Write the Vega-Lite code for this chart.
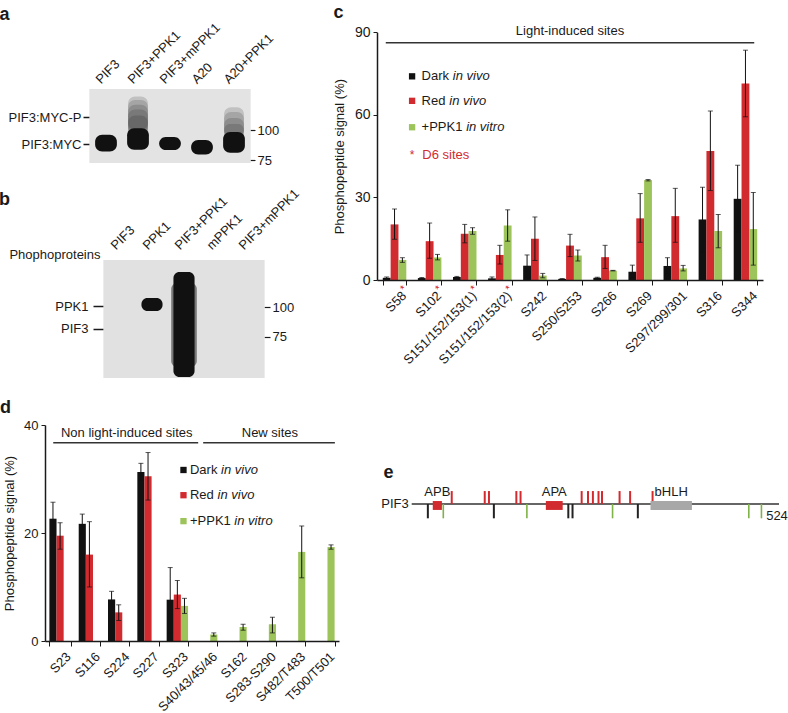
{
"$schema": "https://vega.github.io/schema/vega-lite/v6.json",
"width": 788, "height": 713, "autosize": "none", "padding": 0, "background": "#ffffff",
"config": {
  "font": "Liberation Sans",
  "view": {"stroke": null},
  "axis": {"grid": false, "labelFont": "Liberation Sans", "titleFont": "Liberation Sans", "labelColor": "#1a1a1a", "titleColor": "#1a1a1a", "domainColor": "#1a1a1a", "tickColor": "#1a1a1a", "labelFontSize": 13, "titleFontSize": 13, "titleFontWeight": "normal"},
  "text": {"font": "Liberation Sans", "color": "#1a1a1a", "fontSize": 13}
},
"datasets": {
  "lanesA": [{"lane": "PIF3"}, {"lane": "PIF3+PPK1"}, {"lane": "PIF3+mPPK1"}, {"lane": "A20"}, {"lane": "A20+PPK1"}],
  "bandsA": [{"lane": "PIF3", "lo": 82, "hi": 96}, {"lane": "PIF3+PPK1", "lo": 83.5, "hi": 101.5}, {"lane": "PIF3+mPPK1", "lo": 83.3, "hi": 94.2}, {"lane": "A20", "lo": 79.5, "hi": 91.7}, {"lane": "A20+PPK1", "lo": 81, "hi": 98.3}],
  "smearA": [{"lane": "PIF3+PPK1", "lo": 92, "hi": 128}, {"lane": "PIF3+PPK1", "lo": 94, "hi": 125}, {"lane": "PIF3+PPK1", "lo": 96, "hi": 121}, {"lane": "PIF3+PPK1", "lo": 98, "hi": 117}, {"lane": "PIF3+PPK1", "lo": 100, "hi": 112},
             {"lane": "A20+PPK1", "lo": 90, "hi": 119}, {"lane": "A20+PPK1", "lo": 92, "hi": 115}, {"lane": "A20+PPK1", "lo": 94, "hi": 110}, {"lane": "A20+PPK1", "lo": 95, "hi": 105}],
  "lanesB": [{"lane": "PIF3"}, {"lane": "PPK1"}, {"lane": "PIF3+PPK1"}, {"lane": "mPPK1"}, {"lane": "PIF3+mPPK1"}],
  "bandsB": [{"lane": "PPK1", "lo": 96.7, "hi": 107.5}, {"lane": "PIF3+PPK1", "lo": 41.7, "hi": 129.2}],
  "smearB": [{"lane": "PIF3+PPK1", "lo": 50, "hi": 120}],
  "c": [
    {"site": "S58", "group": "Dark", "value": 0.8, "lo": 0.5, "hi": 1.1},
    {"site": "S58", "group": "Red", "value": 20.2, "lo": 14.8, "hi": 25.8},
    {"site": "S58", "group": "+PPK1", "value": 7.3, "lo": 6.4, "hi": 8.1},
    {"site": "S102", "group": "Dark", "value": 0.7, "lo": 0.5, "hi": 0.9},
    {"site": "S102", "group": "Red", "value": 14.1, "lo": 7.9, "hi": 20.7},
    {"site": "S102", "group": "+PPK1", "value": 8.2, "lo": 7.3, "hi": 9.3},
    {"site": "S151/152/153(1)", "group": "Dark", "value": 1.1, "lo": 0.8, "hi": 1.3},
    {"site": "S151/152/153(1)", "group": "Red", "value": 16.8, "lo": 13.5, "hi": 20.2},
    {"site": "S151/152/153(1)", "group": "+PPK1", "value": 17.8, "lo": 16.6, "hi": 19.0},
    {"site": "S151/152/153(2)", "group": "Dark", "value": 0.6, "lo": 0.2, "hi": 1.1},
    {"site": "S151/152/153(2)", "group": "Red", "value": 9.1, "lo": 5.8, "hi": 12.6},
    {"site": "S151/152/153(2)", "group": "+PPK1", "value": 19.8, "lo": 14.1, "hi": 25.5},
    {"site": "S242", "group": "Dark", "value": 5.2, "lo": 1.2, "hi": 9.1},
    {"site": "S242", "group": "Red", "value": 15.0, "lo": 7.1, "hi": 22.9},
    {"site": "S242", "group": "+PPK1", "value": 1.6, "lo": 0.8, "hi": 2.4},
    {"site": "S250/S253", "group": "Dark", "value": 0.4, "lo": 0.3, "hi": 0.5},
    {"site": "S250/S253", "group": "Red", "value": 12.5, "lo": 8.5, "hi": 16.6},
    {"site": "S250/S253", "group": "+PPK1", "value": 8.9, "lo": 6.9, "hi": 10.9},
    {"site": "S266", "group": "Dark", "value": 0.8, "lo": 0.6, "hi": 1.0},
    {"site": "S266", "group": "Red", "value": 8.3, "lo": 4.2, "hi": 12.6},
    {"site": "S266", "group": "+PPK1", "value": 3.4, "lo": 3.3, "hi": 3.5},
    {"site": "S269", "group": "Dark", "value": 3.0, "lo": 0.8, "hi": 5.4},
    {"site": "S269", "group": "Red", "value": 22.4, "lo": 13.7, "hi": 31.4},
    {"site": "S269", "group": "+PPK1", "value": 36.3, "lo": 36.0, "hi": 36.5},
    {"site": "S297/299/301", "group": "Dark", "value": 5.1, "lo": 2.1, "hi": 8.1},
    {"site": "S297/299/301", "group": "Red", "value": 23.2, "lo": 13.7, "hi": 33.3},
    {"site": "S297/299/301", "group": "+PPK1", "value": 4.2, "lo": 3.3, "hi": 5.3},
    {"site": "S316", "group": "Dark", "value": 22.0, "lo": 10.3, "hi": 33.7},
    {"site": "S316", "group": "Red", "value": 46.9, "lo": 32.5, "hi": 61.4},
    {"site": "S316", "group": "+PPK1", "value": 17.8, "lo": 11.7, "hi": 23.8},
    {"site": "S344", "group": "Dark", "value": 29.5, "lo": 17.3, "hi": 41.7},
    {"site": "S344", "group": "Red", "value": 71.4, "lo": 59.3, "hi": 83.5},
    {"site": "S344", "group": "+PPK1", "value": 18.5, "lo": 5.4, "hi": 31.8}
  ],
  "d6": [{"site": "S58"}, {"site": "S102"}, {"site": "S151/152/153(1)"}, {"site": "S151/152/153(2)"}],
  "d": [
    {"site": "S23", "group": "Dark", "value": 22.65, "lo": 19.6, "hi": 25.7},
    {"site": "S23", "group": "Red", "value": 19.5, "lo": 17.0, "hi": 21.9},
    {"site": "S116", "group": "Dark", "value": 21.7, "lo": 19.9, "hi": 23.5},
    {"site": "S116", "group": "Red", "value": 16.0, "lo": 10.0, "hi": 22.1},
    {"site": "S224", "group": "Dark", "value": 7.7, "lo": 6.2, "hi": 9.2},
    {"site": "S224", "group": "Red", "value": 5.3, "lo": 3.8, "hi": 6.7},
    {"site": "S227", "group": "Dark", "value": 31.3, "lo": 29.8, "hi": 32.9},
    {"site": "S227", "group": "Red", "value": 30.5, "lo": 26.1, "hi": 34.9},
    {"site": "S323", "group": "Dark", "value": 7.65, "lo": 1.4, "hi": 13.6},
    {"site": "S323", "group": "Red", "value": 8.6, "lo": 6.0, "hi": 11.2},
    {"site": "S323", "group": "+PPK1", "value": 6.5, "lo": 5.1, "hi": 7.9},
    {"site": "S40/43/45/46", "group": "+PPK1", "value": 1.2, "lo": 0.9, "hi": 1.5},
    {"site": "S162", "group": "+PPK1", "value": 2.6, "lo": 2.0, "hi": 3.1},
    {"site": "S283-S290", "group": "+PPK1", "value": 3.1, "lo": 1.5, "hi": 4.4},
    {"site": "S482/T483", "group": "+PPK1", "value": 16.5, "lo": 11.7, "hi": 21.3},
    {"site": "T500/T501", "group": "+PPK1", "value": 17.4, "lo": 17.0, "hi": 17.8}
  ],
  "protein": [{"protein": "PIF3", "start": 1, "end": 524}],
  "domains": [{"domain": "APB", "start": 31, "end": 44}, {"domain": "APA", "start": 192, "end": 216}, {"domain": "bHLH", "start": 341, "end": 400}],
  "sites": [
    {"residue": 58, "kind": "light"}, {"residue": 105, "kind": "light"}, {"residue": 111, "kind": "light"}, {"residue": 150, "kind": "light"}, {"residue": 156, "kind": "light"},
    {"residue": 243, "kind": "light"}, {"residue": 252, "kind": "light"}, {"residue": 259, "kind": "light"}, {"residue": 267, "kind": "light"}, {"residue": 272, "kind": "light"},
    {"residue": 297, "kind": "light"}, {"residue": 312, "kind": "light"}, {"residue": 344, "kind": "light"},
    {"residue": 24, "kind": "nonlight"}, {"residue": 118, "kind": "nonlight"}, {"residue": 224, "kind": "nonlight"}, {"residue": 230, "kind": "nonlight"}, {"residue": 323, "kind": "nonlight"},
    {"residue": 46, "kind": "new"}, {"residue": 165, "kind": "new"}, {"residue": 287, "kind": "new"}, {"residue": 481, "kind": "new"}, {"residue": 499, "kind": "new"}
  ]
},
"layer": [
  {"data": {"name": "lanesA"}, "mark": {"type": "bar", "color": "#e3e3e3", "width": {"band": 1.04}},
   "encoding": {
     "x": {"field": "lane", "type": "nominal", "sort": null, "scale": {"domain": ["PIF3", "PIF3+PPK1", "PIF3+mPPK1", "A20", "A20+PPK1"], "range": [90, 250], "paddingInner": 0, "paddingOuter": 0},
           "axis": {"orient": "top", "offset": -89, "domain": false, "ticks": false, "labelAngle": -45, "labelPadding": 3, "labelOffset": -3, "labelOverlap": false, "title": "a", "titleX": 4, "titleY": -75, "titleAngle": 0, "titleAlign": "center", "titleBaseline": "middle", "titleFontSize": 18, "titleFontWeight": "bold"}},
     "y": {"datum": 72.5, "type": "quantitative", "scale": {"domain": [72.5, 134.17], "range": [163, 89], "nice": false, "zero": false}, "axis": null},
     "y2": {"datum": 134.17}
   }},
  {"data": {"name": "smearA"}, "mark": {"type": "bar", "color": "#111111", "opacity": 0.16, "cornerRadius": 7, "width": {"band": 0.62}},
   "encoding": {
     "x": {"field": "lane", "type": "nominal", "sort": null, "scale": {"domain": ["PIF3", "PIF3+PPK1", "PIF3+mPPK1", "A20", "A20+PPK1"], "range": [90, 250], "paddingInner": 0, "paddingOuter": 0}, "axis": null},
     "y": {"field": "lo", "type": "quantitative", "scale": {"domain": [72.5, 134.17], "range": [163, 89], "nice": false, "zero": false},
           "axis": {"orient": "right", "offset": -538, "values": [100, 75], "domain": false, "tickSize": 5, "tickWidth": 1.2, "labelPadding": 2, "title": null}},
     "y2": {"field": "hi"}
   }},
  {"data": {"name": "bandsA"}, "mark": {"type": "bar", "color": "#111111", "cornerRadius": 7, "width": {"band": 0.68}},
   "encoding": {
     "x": {"field": "lane", "type": "nominal", "sort": null, "scale": {"domain": ["PIF3", "PIF3+PPK1", "PIF3+mPPK1", "A20", "A20+PPK1"], "range": [90, 250], "paddingInner": 0, "paddingOuter": 0}, "axis": null},
     "y": {"field": "lo", "type": "quantitative", "scale": {"domain": [72.5, 134.17], "range": [163, 89], "nice": false, "zero": false},
           "axis": {"orient": "left", "offset": -93, "values": [110.83, 88.33], "labelExpr": "datum.value > 100 ? 'PIF3:MYC-P' : 'PIF3:MYC'", "domain": false, "tickSize": 10, "tickWidth": 1.5, "labelPadding": 2, "title": null}},
     "y2": {"field": "hi"}
   }},

  {"data": {"name": "lanesB"}, "mark": {"type": "bar", "color": "#e1e1e1", "width": {"band": 1.04}},
   "encoding": {
     "x": {"field": "lane", "type": "nominal", "sort": null, "scale": {"domain": ["PIF3", "PPK1", "PIF3+PPK1", "mPPK1", "PIF3+mPPK1"], "range": [104, 264], "paddingInner": 0, "paddingOuter": 0},
           "axis": {"orient": "top", "offset": -260, "domain": false, "ticks": false, "labelAngle": -45, "labelPadding": 8, "labelOffset": -2, "labelOverlap": false, "title": "b", "titleX": 4, "titleY": -61, "titleAngle": 0, "titleAlign": "center", "titleBaseline": "middle", "titleFontSize": 18, "titleFontWeight": "bold"}},
     "y": {"datum": 40.83, "type": "quantitative", "scale": {"domain": [40.83, 139.17], "range": [378, 260], "nice": false, "zero": false}, "axis": null},
     "y2": {"datum": 139.17}
   }},
  {"data": {"name": "smearB"}, "mark": {"type": "bar", "color": "#111111", "opacity": 0.5, "cornerRadius": 6, "width": {"band": 0.8}},
   "encoding": {
     "x": {"field": "lane", "type": "nominal", "sort": null, "scale": {"domain": ["PIF3", "PPK1", "PIF3+PPK1", "mPPK1", "PIF3+mPPK1"], "range": [104, 264], "paddingInner": 0, "paddingOuter": 0}, "axis": null},
     "y": {"field": "lo", "type": "quantitative", "scale": {"domain": [40.83, 139.17], "range": [378, 260], "nice": false, "zero": false},
           "axis": {"orient": "right", "offset": -524, "values": [100, 75], "domain": false, "tickSize": 6, "tickWidth": 1.2, "labelPadding": 2, "title": null}},
     "y2": {"field": "hi"}
   }},
  {"data": {"name": "bandsB"}, "mark": {"type": "bar", "color": "#111111", "cornerRadius": 6, "width": {"band": 0.66}},
   "encoding": {
     "x": {"field": "lane", "type": "nominal", "sort": null, "scale": {"domain": ["PIF3", "PPK1", "PIF3+PPK1", "mPPK1", "PIF3+mPPK1"], "range": [104, 264], "paddingInner": 0, "paddingOuter": 0}, "axis": null},
     "y": {"field": "lo", "type": "quantitative", "scale": {"domain": [40.83, 139.17], "range": [378, 260], "nice": false, "zero": false},
           "axis": {"orient": "left", "offset": -104, "values": [100.83, 81.67], "labelExpr": "datum.value > 90 ? 'PPK1' : 'PIF3'", "domain": false, "tickSize": 11, "tickWidth": 1.5, "labelPadding": 5, "title": "Phophoproteins", "titleX": -4, "titleY": 258.5, "titleAngle": 0, "titleAlign": "right", "titleBaseline": "alphabetic"}},
     "y2": {"field": "hi"}
   }},

  {"data": {"name": "c"}, "mark": {"type": "bar"},
   "encoding": {
     "x": {"field": "site", "type": "nominal", "sort": null,
           "scale": {"domain": ["S58", "S102", "S151/152/153(1)", "S151/152/153(2)", "S242", "S250/S253", "S266", "S269", "S297/299/301", "S316", "S344"], "range": [377, 763], "paddingInner": 0.33, "paddingOuter": 0.165},
           "axis": {"orient": "bottom", "offset": -433, "zindex": 1, "tickBand": "extent", "tickSize": 5, "domainWidth": 1.5, "labelAngle": -45, "labelPadding": 4, "labelOffset": 5, "labelOverlap": false, "labelFontSize": 13, "title": "c", "titleX": 338, "titleY": -267.5, "titleAngle": 0, "titleAlign": "center", "titleBaseline": "middle", "titleFontSize": 18, "titleFontWeight": "bold"}},
     "xOffset": {"field": "group", "type": "nominal", "sort": null, "scale": {"domain": ["Dark", "Red", "+PPK1"], "paddingInner": 0, "paddingOuter": 0}},
     "y": {"field": "value", "type": "quantitative", "scale": {"domain": [0, 90], "range": [280, 32.3], "nice": false, "zero": false},
           "axis": {"orient": "left", "offset": -377, "zindex": 1, "values": [0, 30, 60, 90], "tickSize": 4, "domainWidth": 1.5, "labelPadding": 3, "labelFontSize": 14, "title": "Phosphopeptide signal (%)", "titlePadding": 8}},
     "color": {"field": "group", "type": "nominal", "scale": {"domain": ["Dark", "Red", "+PPK1"], "range": ["#111111", "#d22b2f", "#9dc45b"]}, "legend": null}
   }},
  {"data": {"name": "c"}, "mark": {"type": "rule", "color": "#111111", "strokeWidth": 1},
   "encoding": {
     "x": {"field": "site", "type": "nominal", "sort": null, "scale": {"domain": ["S58", "S102", "S151/152/153(1)", "S151/152/153(2)", "S242", "S250/S253", "S266", "S269", "S297/299/301", "S316", "S344"], "range": [377, 763], "paddingInner": 0.33, "paddingOuter": 0.165}, "axis": null},
     "xOffset": {"field": "group", "type": "nominal", "sort": null, "scale": {"domain": ["Dark", "Red", "+PPK1"], "paddingInner": 0, "paddingOuter": 0}},
     "y": {"field": "lo", "type": "quantitative", "scale": {"domain": [0, 90], "range": [280, 32.3], "nice": false, "zero": false}, "axis": null},
     "y2": {"field": "hi"}
   }},
  {"data": {"name": "c"}, "mark": {"type": "tick", "orient": "horizontal", "size": 5, "thickness": 1, "color": "#111111"},
   "encoding": {
     "x": {"field": "site", "type": "nominal", "sort": null, "scale": {"domain": ["S58", "S102", "S151/152/153(1)", "S151/152/153(2)", "S242", "S250/S253", "S266", "S269", "S297/299/301", "S316", "S344"], "range": [377, 763], "paddingInner": 0.33, "paddingOuter": 0.165}, "axis": null},
     "xOffset": {"field": "group", "type": "nominal", "sort": null, "scale": {"domain": ["Dark", "Red", "+PPK1"], "paddingInner": 0, "paddingOuter": 0}},
     "y": {"field": "lo", "type": "quantitative", "scale": {"domain": [0, 90], "range": [280, 32.3], "nice": false, "zero": false}, "axis": null}
   }},
  {"data": {"name": "c"}, "mark": {"type": "tick", "orient": "horizontal", "size": 5, "thickness": 1, "color": "#111111"},
   "encoding": {
     "x": {"field": "site", "type": "nominal", "sort": null, "scale": {"domain": ["S58", "S102", "S151/152/153(1)", "S151/152/153(2)", "S242", "S250/S253", "S266", "S269", "S297/299/301", "S316", "S344"], "range": [377, 763], "paddingInner": 0.33, "paddingOuter": 0.165}, "axis": null},
     "xOffset": {"field": "group", "type": "nominal", "sort": null, "scale": {"domain": ["Dark", "Red", "+PPK1"], "paddingInner": 0, "paddingOuter": 0}},
     "y": {"field": "hi", "type": "quantitative", "scale": {"domain": [0, 90], "range": [280, 32.3], "nice": false, "zero": false}, "axis": null}
   }},
  {"data": {"name": "d6"}, "mark": {"type": "text", "text": "*", "color": "#d22b2f", "fontSize": 11, "angle": 315, "align": "left", "baseline": "top", "dx": -2, "dy": 7},
   "encoding": {
     "x": {"field": "site", "type": "nominal", "sort": null, "scale": {"domain": ["S58", "S102", "S151/152/153(1)", "S151/152/153(2)", "S242", "S250/S253", "S266", "S269", "S297/299/301", "S316", "S344"], "range": [377, 763], "paddingInner": 0.33, "paddingOuter": 0.165}, "axis": null},
     "y": {"datum": 0, "type": "quantitative", "scale": {"domain": [0, 90], "range": [280, 32.3], "nice": false, "zero": false}, "axis": null}
   }},
  {"data": {"values": [{}]}, "mark": {"type": "rule", "color": "#333333", "strokeWidth": 1.5},
   "encoding": {"x": {"datum": 0.25, "type": "quantitative", "scale": {"domain": [0, 11], "range": [377, 763], "nice": false, "zero": false}, "axis": null}, "x2": {"datum": 10.75},
                "y": {"datum": 86.2, "type": "quantitative", "scale": {"domain": [0, 90], "range": [280, 32.3], "nice": false, "zero": false}, "axis": null}}},
  {"data": {"values": [{}]}, "mark": {"type": "text", "align": "center", "baseline": "middle", "fontSize": 13},
   "encoding": {"x": {"datum": 5.5, "type": "quantitative", "scale": {"domain": [0, 11], "range": [377, 763], "nice": false, "zero": false}, "axis": null},
                "y": {"datum": 90.6, "type": "quantitative", "scale": {"domain": [0, 90], "range": [280, 32.3], "nice": false, "zero": false}, "axis": null}, "text": {"value": "Light-induced sites"}}},
  {"data": {"values": [{}]}, "mark": {"type": "square", "size": 40, "opacity": 1, "color": "#111111"},
   "encoding": {"x": {"datum": 1.0, "type": "quantitative", "scale": {"domain": [0, 11], "range": [377, 763], "nice": false, "zero": false}, "axis": null},
                "y": {"datum": 74.0, "type": "quantitative", "scale": {"domain": [0, 90], "range": [280, 32.3], "nice": false, "zero": false}, "axis": null}}},
  {"data": {"values": [{}]}, "mark": {"type": "square", "size": 40, "opacity": 1, "color": "#d22b2f"},
   "encoding": {"x": {"datum": 1.0, "type": "quantitative", "scale": {"domain": [0, 11], "range": [377, 763], "nice": false, "zero": false}, "axis": null},
                "y": {"datum": 65.1, "type": "quantitative", "scale": {"domain": [0, 90], "range": [280, 32.3], "nice": false, "zero": false}, "axis": null}}},
  {"data": {"values": [{}]}, "mark": {"type": "square", "size": 40, "opacity": 1, "color": "#9dc45b"},
   "encoding": {"x": {"datum": 1.0, "type": "quantitative", "scale": {"domain": [0, 11], "range": [377, 763], "nice": false, "zero": false}, "axis": null},
                "y": {"datum": 55.5, "type": "quantitative", "scale": {"domain": [0, 90], "range": [280, 32.3], "nice": false, "zero": false}, "axis": null}}},
  {"data": {"values": [{}]}, "mark": {"type": "text", "align": "left", "baseline": "middle", "fontSize": 13},
   "encoding": {"x": {"datum": 1.27, "type": "quantitative", "scale": {"domain": [0, 11], "range": [377, 763], "nice": false, "zero": false}, "axis": null},
                "y": {"datum": 74.0, "type": "quantitative", "scale": {"domain": [0, 90], "range": [280, 32.3], "nice": false, "zero": false}, "axis": null}, "text": {"value": "Dark"}}},
  {"data": {"values": [{}]}, "mark": {"type": "text", "align": "left", "baseline": "middle", "fontSize": 13},
   "encoding": {"x": {"datum": 1.27, "type": "quantitative", "scale": {"domain": [0, 11], "range": [377, 763], "nice": false, "zero": false}, "axis": null},
                "y": {"datum": 65.1, "type": "quantitative", "scale": {"domain": [0, 90], "range": [280, 32.3], "nice": false, "zero": false}, "axis": null}, "text": {"value": "Red"}}},
  {"data": {"values": [{}]}, "mark": {"type": "text", "align": "left", "baseline": "middle", "fontSize": 13},
   "encoding": {"x": {"datum": 1.27, "type": "quantitative", "scale": {"domain": [0, 11], "range": [377, 763], "nice": false, "zero": false}, "axis": null},
                "y": {"datum": 55.5, "type": "quantitative", "scale": {"domain": [0, 90], "range": [280, 32.3], "nice": false, "zero": false}, "axis": null}, "text": {"value": "+PPK1"}}},
  {"data": {"values": [{}]}, "mark": {"type": "text", "align": "left", "baseline": "middle", "fontSize": 13, "fontStyle": "italic"},
   "encoding": {"x": {"datum": 2.16, "type": "quantitative", "scale": {"domain": [0, 11], "range": [377, 763], "nice": false, "zero": false}, "axis": null},
                "y": {"datum": 74.0, "type": "quantitative", "scale": {"domain": [0, 90], "range": [280, 32.3], "nice": false, "zero": false}, "axis": null}, "text": {"value": "in vivo"}}},
  {"data": {"values": [{}]}, "mark": {"type": "text", "align": "left", "baseline": "middle", "fontSize": 13, "fontStyle": "italic"},
   "encoding": {"x": {"datum": 2.06, "type": "quantitative", "scale": {"domain": [0, 11], "range": [377, 763], "nice": false, "zero": false}, "axis": null},
                "y": {"datum": 65.1, "type": "quantitative", "scale": {"domain": [0, 90], "range": [280, 32.3], "nice": false, "zero": false}, "axis": null}, "text": {"value": "in vivo"}}},
  {"data": {"values": [{}]}, "mark": {"type": "text", "align": "left", "baseline": "middle", "fontSize": 13, "fontStyle": "italic"},
   "encoding": {"x": {"datum": 2.54, "type": "quantitative", "scale": {"domain": [0, 11], "range": [377, 763], "nice": false, "zero": false}, "axis": null},
                "y": {"datum": 55.5, "type": "quantitative", "scale": {"domain": [0, 90], "range": [280, 32.3], "nice": false, "zero": false}, "axis": null}, "text": {"value": "in vitro"}}},
  {"data": {"values": [{}]}, "mark": {"type": "text", "align": "center", "baseline": "middle", "fontSize": 12, "color": "#d22b2f"},
   "encoding": {"x": {"datum": 1.0, "type": "quantitative", "scale": {"domain": [0, 11], "range": [377, 763], "nice": false, "zero": false}, "axis": null},
                "y": {"datum": 45.4, "type": "quantitative", "scale": {"domain": [0, 90], "range": [280, 32.3], "nice": false, "zero": false}, "axis": null}, "text": {"value": "*"}}},
  {"data": {"values": [{}]}, "mark": {"type": "text", "align": "left", "baseline": "middle", "fontSize": 13, "color": "#d22b2f"},
   "encoding": {"x": {"datum": 1.29, "type": "quantitative", "scale": {"domain": [0, 11], "range": [377, 763], "nice": false, "zero": false}, "axis": null},
                "y": {"datum": 45.4, "type": "quantitative", "scale": {"domain": [0, 90], "range": [280, 32.3], "nice": false, "zero": false}, "axis": null}, "text": {"value": "D6 sites"}}},

  {"data": {"name": "d"}, "mark": {"type": "bar"},
   "encoding": {
     "x": {"field": "site", "type": "nominal", "sort": null,
           "scale": {"domain": ["S23", "S116", "S224", "S227", "S323", "S40/43/45/46", "S162", "S283-S290", "S482/T483", "T500/T501"], "range": [45, 339], "paddingInner": 0.27, "paddingOuter": 0.15},
           "axis": {"orient": "bottom", "offset": -72, "zindex": 1, "tickBand": "extent", "tickSize": 5, "domainWidth": 1.5, "labelAngle": -45, "labelPadding": 4, "labelOffset": 4, "labelOverlap": false, "labelFontSize": 13, "title": "d", "titleX": 5, "titleY": -234, "titleAngle": 0, "titleAlign": "center", "titleBaseline": "middle", "titleFontSize": 18, "titleFontWeight": "bold"}},
     "xOffset": {"field": "group", "type": "nominal", "sort": null, "scale": {"domain": ["Dark", "Red", "+PPK1"], "paddingInner": 0, "paddingOuter": 0}},
     "y": {"field": "value", "type": "quantitative", "scale": {"domain": [0, 40], "range": [641, 425], "nice": false, "zero": false},
           "axis": {"orient": "left", "offset": -45, "zindex": 1, "values": [0, 20, 40], "tickSize": 4, "domainWidth": 1.5, "labelPadding": 3, "labelFontSize": 13, "title": "Phosphopeptide signal (%)", "titlePadding": 7}},
     "color": {"field": "group", "type": "nominal", "scale": {"domain": ["Dark", "Red", "+PPK1"], "range": ["#111111", "#d22b2f", "#9dc45b"]}, "legend": null}
   }},
  {"data": {"name": "d"}, "mark": {"type": "rule", "color": "#111111", "strokeWidth": 1},
   "encoding": {
     "x": {"field": "site", "type": "nominal", "sort": null, "scale": {"domain": ["S23", "S116", "S224", "S227", "S323", "S40/43/45/46", "S162", "S283-S290", "S482/T483", "T500/T501"], "range": [45, 339], "paddingInner": 0.27, "paddingOuter": 0.15}, "axis": null},
     "xOffset": {"field": "group", "type": "nominal", "sort": null, "scale": {"domain": ["Dark", "Red", "+PPK1"], "paddingInner": 0, "paddingOuter": 0}},
     "y": {"field": "lo", "type": "quantitative", "scale": {"domain": [0, 40], "range": [641, 425], "nice": false, "zero": false}, "axis": null},
     "y2": {"field": "hi"}
   }},
  {"data": {"name": "d"}, "mark": {"type": "tick", "orient": "horizontal", "size": 5, "thickness": 1, "color": "#111111"},
   "encoding": {
     "x": {"field": "site", "type": "nominal", "sort": null, "scale": {"domain": ["S23", "S116", "S224", "S227", "S323", "S40/43/45/46", "S162", "S283-S290", "S482/T483", "T500/T501"], "range": [45, 339], "paddingInner": 0.27, "paddingOuter": 0.15}, "axis": null},
     "xOffset": {"field": "group", "type": "nominal", "sort": null, "scale": {"domain": ["Dark", "Red", "+PPK1"], "paddingInner": 0, "paddingOuter": 0}},
     "y": {"field": "lo", "type": "quantitative", "scale": {"domain": [0, 40], "range": [641, 425], "nice": false, "zero": false}, "axis": null}
   }},
  {"data": {"name": "d"}, "mark": {"type": "tick", "orient": "horizontal", "size": 5, "thickness": 1, "color": "#111111"},
   "encoding": {
     "x": {"field": "site", "type": "nominal", "sort": null, "scale": {"domain": ["S23", "S116", "S224", "S227", "S323", "S40/43/45/46", "S162", "S283-S290", "S482/T483", "T500/T501"], "range": [45, 339], "paddingInner": 0.27, "paddingOuter": 0.15}, "axis": null},
     "xOffset": {"field": "group", "type": "nominal", "sort": null, "scale": {"domain": ["Dark", "Red", "+PPK1"], "paddingInner": 0, "paddingOuter": 0}},
     "y": {"field": "hi", "type": "quantitative", "scale": {"domain": [0, 40], "range": [641, 425], "nice": false, "zero": false}, "axis": null}
   }},
  {"data": {"values": [{}]}, "mark": {"type": "rule", "color": "#333333", "strokeWidth": 1.5},
   "encoding": {"x": {"datum": 0.28, "type": "quantitative", "scale": {"domain": [0, 10], "range": [45, 339], "nice": false, "zero": false}, "axis": null}, "x2": {"datum": 5.21},
                "y": {"datum": 36.7, "type": "quantitative", "scale": {"domain": [0, 40], "range": [641, 425], "nice": false, "zero": false}, "axis": null}}},
  {"data": {"values": [{}]}, "mark": {"type": "rule", "color": "#333333", "strokeWidth": 1.5},
   "encoding": {"x": {"datum": 5.38, "type": "quantitative", "scale": {"domain": [0, 10], "range": [45, 339], "nice": false, "zero": false}, "axis": null}, "x2": {"datum": 9.86},
                "y": {"datum": 36.7, "type": "quantitative", "scale": {"domain": [0, 40], "range": [641, 425], "nice": false, "zero": false}, "axis": null}}},
  {"data": {"values": [{}]}, "mark": {"type": "text", "align": "center", "baseline": "middle", "fontSize": 13},
   "encoding": {"x": {"datum": 2.78, "type": "quantitative", "scale": {"domain": [0, 10], "range": [45, 339], "nice": false, "zero": false}, "axis": null},
                "y": {"datum": 38.5, "type": "quantitative", "scale": {"domain": [0, 40], "range": [641, 425], "nice": false, "zero": false}, "axis": null}, "text": {"value": "Non light-induced sites"}}},
  {"data": {"values": [{}]}, "mark": {"type": "text", "align": "center", "baseline": "middle", "fontSize": 13},
   "encoding": {"x": {"datum": 7.65, "type": "quantitative", "scale": {"domain": [0, 10], "range": [45, 339], "nice": false, "zero": false}, "axis": null},
                "y": {"datum": 38.5, "type": "quantitative", "scale": {"domain": [0, 40], "range": [641, 425], "nice": false, "zero": false}, "axis": null}, "text": {"value": "New sites"}}},
  {"data": {"values": [{}]}, "mark": {"type": "square", "size": 40, "opacity": 1, "color": "#111111"},
   "encoding": {"x": {"datum": 4.71, "type": "quantitative", "scale": {"domain": [0, 10], "range": [45, 339], "nice": false, "zero": false}, "axis": null},
                "y": {"datum": 31.67, "type": "quantitative", "scale": {"domain": [0, 40], "range": [641, 425], "nice": false, "zero": false}, "axis": null}}},
  {"data": {"values": [{}]}, "mark": {"type": "square", "size": 40, "opacity": 1, "color": "#d22b2f"},
   "encoding": {"x": {"datum": 4.71, "type": "quantitative", "scale": {"domain": [0, 10], "range": [45, 339], "nice": false, "zero": false}, "axis": null},
                "y": {"datum": 27.0, "type": "quantitative", "scale": {"domain": [0, 40], "range": [641, 425], "nice": false, "zero": false}, "axis": null}}},
  {"data": {"values": [{}]}, "mark": {"type": "square", "size": 40, "opacity": 1, "color": "#9dc45b"},
   "encoding": {"x": {"datum": 4.71, "type": "quantitative", "scale": {"domain": [0, 10], "range": [45, 339], "nice": false, "zero": false}, "axis": null},
                "y": {"datum": 22.2, "type": "quantitative", "scale": {"domain": [0, 40], "range": [641, 425], "nice": false, "zero": false}, "axis": null}}},
  {"data": {"values": [{}]}, "mark": {"type": "text", "align": "left", "baseline": "middle", "fontSize": 13},
   "encoding": {"x": {"datum": 4.93, "type": "quantitative", "scale": {"domain": [0, 10], "range": [45, 339], "nice": false, "zero": false}, "axis": null},
                "y": {"datum": 31.67, "type": "quantitative", "scale": {"domain": [0, 40], "range": [641, 425], "nice": false, "zero": false}, "axis": null}, "text": {"value": "Dark"}}},
  {"data": {"values": [{}]}, "mark": {"type": "text", "align": "left", "baseline": "middle", "fontSize": 13},
   "encoding": {"x": {"datum": 4.93, "type": "quantitative", "scale": {"domain": [0, 10], "range": [45, 339], "nice": false, "zero": false}, "axis": null},
                "y": {"datum": 27.0, "type": "quantitative", "scale": {"domain": [0, 40], "range": [641, 425], "nice": false, "zero": false}, "axis": null}, "text": {"value": "Red"}}},
  {"data": {"values": [{}]}, "mark": {"type": "text", "align": "left", "baseline": "middle", "fontSize": 13},
   "encoding": {"x": {"datum": 4.93, "type": "quantitative", "scale": {"domain": [0, 10], "range": [45, 339], "nice": false, "zero": false}, "axis": null},
                "y": {"datum": 22.2, "type": "quantitative", "scale": {"domain": [0, 40], "range": [641, 425], "nice": false, "zero": false}, "axis": null}, "text": {"value": "+PPK1"}}},
  {"data": {"values": [{}]}, "mark": {"type": "text", "align": "left", "baseline": "middle", "fontSize": 13, "fontStyle": "italic"},
   "encoding": {"x": {"datum": 5.99, "type": "quantitative", "scale": {"domain": [0, 10], "range": [45, 339], "nice": false, "zero": false}, "axis": null},
                "y": {"datum": 31.67, "type": "quantitative", "scale": {"domain": [0, 40], "range": [641, 425], "nice": false, "zero": false}, "axis": null}, "text": {"value": "in vivo"}}},
  {"data": {"values": [{}]}, "mark": {"type": "text", "align": "left", "baseline": "middle", "fontSize": 13, "fontStyle": "italic"},
   "encoding": {"x": {"datum": 5.87, "type": "quantitative", "scale": {"domain": [0, 10], "range": [45, 339], "nice": false, "zero": false}, "axis": null},
                "y": {"datum": 27.0, "type": "quantitative", "scale": {"domain": [0, 40], "range": [641, 425], "nice": false, "zero": false}, "axis": null}, "text": {"value": "in vivo"}}},
  {"data": {"values": [{}]}, "mark": {"type": "text", "align": "left", "baseline": "middle", "fontSize": 13, "fontStyle": "italic"},
   "encoding": {"x": {"datum": 6.44, "type": "quantitative", "scale": {"domain": [0, 10], "range": [45, 339], "nice": false, "zero": false}, "axis": null},
                "y": {"datum": 22.2, "type": "quantitative", "scale": {"domain": [0, 40], "range": [641, 425], "nice": false, "zero": false}, "axis": null}, "text": {"value": "in vitro"}}},

  {"data": {"name": "protein"}, "mark": {"type": "rule", "color": "#333333", "strokeWidth": 1.5},
   "encoding": {
     "x": {"field": "start", "type": "quantitative", "scale": {"domain": [0, 524], "range": [411, 779], "nice": false, "zero": false},
           "axis": {"orient": "bottom", "offset": 0, "domain": false, "ticks": false, "labels": false, "title": "e", "titleX": 388, "titleY": -241, "titleAngle": 0, "titleAlign": "center", "titleBaseline": "middle", "titleFontSize": 18, "titleFontWeight": "bold"}},
     "x2": {"field": "end"},
     "y": {"datum": 0, "type": "quantitative", "scale": {"domain": [-2, 2], "range": [531, 477], "nice": false, "zero": false}, "axis": null}
   }},
  {"data": {"name": "sites"}, "transform": [{"filter": "datum.kind == 'light'"}], "mark": {"type": "rule", "color": "#d22b2f", "strokeWidth": 2},
   "encoding": {"x": {"field": "residue", "type": "quantitative", "scale": {"domain": [0, 524], "range": [411, 779], "nice": false, "zero": false}, "axis": null},
                "y": {"datum": 0, "type": "quantitative", "scale": {"domain": [-2, 2], "range": [531, 477], "nice": false, "zero": false}, "axis": null}, "y2": {"datum": 0.96}}},
  {"data": {"name": "sites"}, "transform": [{"filter": "datum.kind == 'nonlight'"}], "mark": {"type": "rule", "color": "#222222", "strokeWidth": 2},
   "encoding": {"x": {"field": "residue", "type": "quantitative", "scale": {"domain": [0, 524], "range": [411, 779], "nice": false, "zero": false}, "axis": null},
                "y": {"datum": 0, "type": "quantitative", "scale": {"domain": [-2, 2], "range": [531, 477], "nice": false, "zero": false}, "axis": null}, "y2": {"datum": -1.06}}},
  {"data": {"name": "sites"}, "transform": [{"filter": "datum.kind == 'new'"}], "mark": {"type": "rule", "color": "#7fb347", "strokeWidth": 1.6},
   "encoding": {"x": {"field": "residue", "type": "quantitative", "scale": {"domain": [0, 524], "range": [411, 779], "nice": false, "zero": false}, "axis": null},
                "y": {"datum": 0, "type": "quantitative", "scale": {"domain": [-2, 2], "range": [531, 477], "nice": false, "zero": false}, "axis": null}, "y2": {"datum": -1.06}}},
  {"data": {"name": "domains"}, "mark": {"type": "rect"},
   "encoding": {"x": {"field": "start", "type": "quantitative", "scale": {"domain": [0, 524], "range": [411, 779], "nice": false, "zero": false}, "axis": null}, "x2": {"field": "end"},
                "y": {"datum": -0.44, "type": "quantitative", "scale": {"domain": [-2, 2], "range": [531, 477], "nice": false, "zero": false}, "axis": null}, "y2": {"datum": 0.22},
                "color": {"field": "domain", "type": "nominal", "scale": {"domain": ["APB", "APA", "bHLH"], "range": ["#d22b2f", "#d22b2f", "#a8a8a8"]}, "legend": null}}},
  {"data": {"name": "domains"}, "transform": [{"fold": ["start", "end"], "as": ["edge", "residue"]}], "mark": {"type": "text", "align": "center", "baseline": "alphabetic", "fontSize": 13},
   "encoding": {"x": {"field": "residue", "aggregate": "mean", "type": "quantitative", "scale": {"domain": [0, 524], "range": [411, 779], "nice": false, "zero": false}, "axis": null},
                "y": {"datum": 0.62, "type": "quantitative", "scale": {"domain": [-2, 2], "range": [531, 477], "nice": false, "zero": false}, "axis": null}, "text": {"field": "domain", "type": "nominal"}}},
  {"data": {"name": "protein"}, "mark": {"type": "text", "align": "right", "baseline": "middle", "dx": -3, "fontSize": 13},
   "encoding": {"x": {"field": "start", "type": "quantitative", "scale": {"domain": [0, 524], "range": [411, 779], "nice": false, "zero": false}, "axis": null},
                "y": {"datum": 0, "type": "quantitative", "scale": {"domain": [-2, 2], "range": [531, 477], "nice": false, "zero": false}, "axis": null}, "text": {"field": "protein", "type": "nominal"}}},
  {"data": {"name": "protein"}, "mark": {"type": "text", "align": "center", "baseline": "alphabetic", "dx": -2, "fontSize": 13},
   "encoding": {"x": {"field": "end", "type": "quantitative", "scale": {"domain": [0, 524], "range": [411, 779], "nice": false, "zero": false}, "axis": null},
                "y": {"datum": -1.18, "type": "quantitative", "scale": {"domain": [-2, 2], "range": [531, 477], "nice": false, "zero": false}, "axis": null}, "text": {"field": "end", "type": "quantitative"}}}
],
"resolve": {"scale": {"x": "independent", "y": "independent", "color": "independent", "xOffset": "independent"}, "axis": {"x": "independent", "y": "independent"}}
}
